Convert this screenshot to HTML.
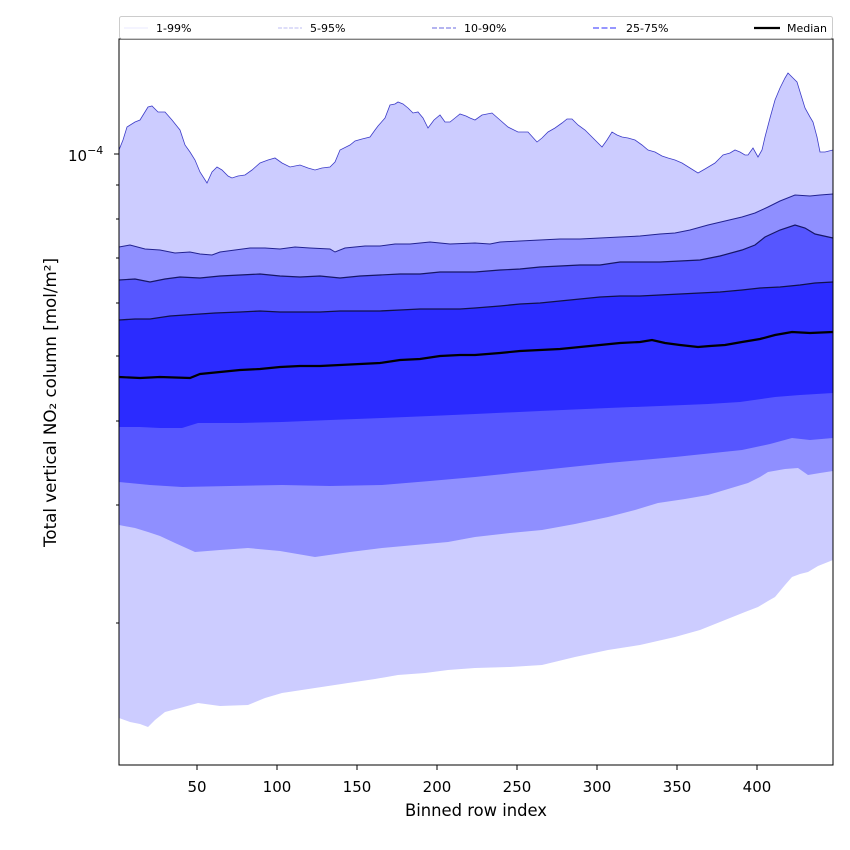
<!DOCTYPE html>
<html>
<head>
<meta charset="utf-8">
<style>
html,body{margin:0;padding:0;background:#fff;}
svg{display:block;}
text{font-family:"DejaVu Sans","Liberation Sans",sans-serif;}
</style>
</head>
<body>
<svg width="850" height="850" viewBox="0 0 850 850" xmlns="http://www.w3.org/2000/svg">
<rect x="0" y="0" width="850" height="850" fill="#fff"/>
<defs>
<clipPath id="ax"><rect x="119" y="39" width="714" height="726"/></clipPath>
</defs>
<g clip-path="url(#ax)">
<path fill="#ccccff" d="M119,150 L123,140 L127,127 L135,122 L140,120 L148,107 L152,106 L158,112 L165,112 L172,120 L180,130 L185,145 L190,152 L195,160 L200,172 L207,183 L212,172 L217,167 L222,170 L228,176 L232,178 L238,176 L245,175 L252,170 L260,163 L268,160 L275,158 L282,163 L290,167 L300,165 L308,168 L315,170 L322,168 L330,167 L335,162 L340,150 L350,145 L355,141 L362,139 L370,137 L375,130 L378,126 L385,118 L390,105 L395,104 L398,102 L403,104 L408,108 L413,113 L418,112 L423,118 L428,128 L434,120 L440,115 L445,122 L450,122 L455,118 L460,114 L466,116 L470,118 L475,120 L482,115 L492,113 L500,120 L508,127 L518,132 L528,132 L537,142 L542,138 L548,132 L555,128 L562,123 L567,119 L572,119 L578,125 L585,130 L592,137 L597,142 L602,147 L607,140 L612,132 L617,135 L622,137 L628,138 L635,140 L642,145 L648,150 L655,152 L662,156 L668,158 L675,160 L682,163 L690,168 L698,173 L705,169 L715,163 L720,158 L723,155 L730,153 L735,150 L740,152 L745,155 L748,155 L753,148 L758,157 L762,150 L765,137 L770,118 L775,100 L780,88 L785,78 L788,73 L793,78 L797,82 L801,95 L805,108 L810,117 L813,122 L817,137 L820,152 L825,152 L833,150
L833,560 L828,562 L818,566 L808,572 L800,574 L792,577 L785,585 L775,597 L768,601 L758,607 L745,612 L725,620 L700,630 L675,637 L640,645 L608,650 L575,657 L542,665 L510,667 L475,668 L448,670 L425,673 L398,675 L375,679 L348,683 L315,688 L282,693 L265,698 L248,705 L220,706 L198,703 L180,708 L165,712 L155,720 L148,727 L140,724 L130,722 L119,718 Z"/>
<path fill="#8f8fff" d="M119,247 L130,245 L145,249 L160,250 L175,253 L190,252 L200,254 L212,255 L220,252 L235,250 L250,248 L265,248 L280,249 L295,247 L310,248 L330,249 L335,252 L345,248 L365,246 L380,246 L395,244 L410,244 L430,242 L450,244 L475,243 L490,244 L500,242 L520,241 L540,240 L560,239 L580,239 L600,238 L620,237 L640,236 L660,234 L675,233 L690,230 L708,225 L725,221 L742,217 L755,213 L768,207 L780,201 L795,195 L810,196 L820,195 L833,194
L833,471 L820,473 L808,475 L798,468 L785,469 L768,472 L760,477 L748,483 L728,489 L708,495 L685,499 L658,503 L635,510 L608,517 L575,524 L542,530 L510,533 L475,537 L448,542 L415,545 L382,548 L350,552 L315,557 L280,551 L248,548 L220,550 L195,552 L175,543 L160,536 L148,532 L135,528 L119,525 Z"/>
<path fill="#5656ff" d="M119,280 L135,279 L150,282 L165,279 L180,277 L200,278 L220,276 L240,275 L260,274 L280,276 L300,277 L320,276 L340,278 L360,276 L380,275 L400,274 L420,274 L440,272 L460,272 L475,272 L500,270 L520,269 L540,267 L560,266 L580,265 L600,265 L620,262 L640,262 L660,262 L680,261 L700,260 L720,256 L742,250 L755,245 L765,237 L780,230 L795,225 L805,228 L815,234 L833,238
L833,438 L810,440 L792,438 L770,444 L742,450 L675,457 L608,463 L542,470 L475,477 L430,481 L382,485 L330,486 L282,485 L230,486 L182,487 L150,485 L119,482 Z"/>
<path fill="#2b2bff" d="M119,320 L135,319 L150,319 L170,316 L185,315 L200,314 L215,313 L240,312 L260,311 L280,312 L300,312 L320,312 L340,311 L360,311 L380,311 L400,310 L420,309 L440,309 L460,309 L475,308 L500,306 L520,304 L540,303 L560,301 L580,299 L600,297 L620,296 L640,296 L660,295 L680,294 L700,293 L720,292 L742,290 L760,288 L780,287 L800,285 L815,283 L833,282
L833,393 L800,395 L775,397 L740,402 L708,404 L660,406 L608,408 L540,411 L475,414 L430,416 L382,418 L330,420 L282,422 L240,423 L198,423 L182,428 L160,428 L140,427 L119,427 Z"/>
<polyline fill="none" stroke="#3c3cc8" stroke-width="0.8" points="119,150 123,140 127,127 135,122 140,120 148,107 152,106 158,112 165,112 172,120 180,130 185,145 190,152 195,160 200,172 207,183 212,172 217,167 222,170 228,176 232,178 238,176 245,175 252,170 260,163 268,160 275,158 282,163 290,167 300,165 308,168 315,170 322,168 330,167 335,162 340,150 350,145 355,141 362,139 370,137 375,130 378,126 385,118 390,105 395,104 398,102 403,104 408,108 413,113 418,112 423,118 428,128 434,120 440,115 445,122 450,122 455,118 460,114 466,116 470,118 475,120 482,115 492,113 500,120 508,127 518,132 528,132 537,142 542,138 548,132 555,128 562,123 567,119 572,119 578,125 585,130 592,137 597,142 602,147 607,140 612,132 617,135 622,137 628,138 635,140 642,145 648,150 655,152 662,156 668,158 675,160 682,163 690,168 698,173 705,169 715,163 720,158 723,155 730,153 735,150 740,152 745,155 748,155 753,148 758,157 762,150 765,137 770,118 775,100 780,88 785,78 788,73 793,78 797,82 801,95 805,108 810,117 813,122 817,137 820,152 825,152 833,150"/>
<polyline fill="none" stroke="#222290" stroke-width="1" points="119,247 130,245 145,249 160,250 175,253 190,252 200,254 212,255 220,252 235,250 250,248 265,248 280,249 295,247 310,248 330,249 335,252 345,248 365,246 380,246 395,244 410,244 430,242 450,244 475,243 490,244 500,242 520,241 540,240 560,239 580,239 600,238 620,237 640,236 660,234 675,233 690,230 708,225 725,221 742,217 755,213 768,207 780,201 795,195 810,196 820,195 833,194"/>
<polyline fill="none" stroke="#161665" stroke-width="1.2" points="119,280 135,279 150,282 165,279 180,277 200,278 220,276 240,275 260,274 280,276 300,277 320,276 340,278 360,276 380,275 400,274 420,274 440,272 460,272 475,272 500,270 520,269 540,267 560,266 580,265 600,265 620,262 640,262 660,262 680,261 700,260 720,256 742,250 755,245 765,237 780,230 795,225 805,228 815,234 833,238"/>
<polyline fill="none" stroke="#10104a" stroke-width="1.3" points="119,320 135,319 150,319 170,316 185,315 200,314 215,313 240,312 260,311 280,312 300,312 320,312 340,311 360,311 380,311 400,310 420,309 440,309 460,309 475,308 500,306 520,304 540,303 560,301 580,299 600,297 620,296 640,296 660,295 680,294 700,293 720,292 742,290 760,288 780,287 800,285 815,283 833,282"/>
<polyline fill="none" stroke="#000" stroke-width="2.2" points="119,377 140,378 160,377 190,378 200,374 220,372 240,370 260,369 280,367 300,366 320,366 340,365 360,364 380,363 400,360 420,359 440,356 460,355 475,355 500,353 520,351 540,350 560,349 580,347 600,345 620,343 640,342 652,340 665,343 680,345 698,347 710,346 725,345 742,342 760,339 775,335 792,332 810,333 833,332"/>
</g>
<rect x="119" y="39" width="714" height="726" fill="none" stroke="#000" stroke-width="1"/>
<g stroke="#000" stroke-width="1">
<line x1="197" y1="765" x2="197" y2="770"/>
<line x1="277" y1="765" x2="277" y2="770"/>
<line x1="357" y1="765" x2="357" y2="770"/>
<line x1="437" y1="765" x2="437" y2="770"/>
<line x1="517" y1="765" x2="517" y2="770"/>
<line x1="597" y1="765" x2="597" y2="770"/>
<line x1="677" y1="765" x2="677" y2="770"/>
<line x1="757" y1="765" x2="757" y2="770"/>
<line x1="114" y1="154" x2="119" y2="154"/>
<line x1="116" y1="185" x2="119" y2="185"/>
<line x1="116" y1="219" x2="119" y2="219"/>
<line x1="116" y1="258" x2="119" y2="258"/>
<line x1="116" y1="303" x2="119" y2="303"/>
<line x1="116" y1="356" x2="119" y2="356"/>
<line x1="116" y1="421" x2="119" y2="421"/>
<line x1="116" y1="505" x2="119" y2="505"/>
<line x1="116" y1="623" x2="119" y2="623"/>
</g>
<g font-size="15" fill="#000" text-anchor="middle">
<text x="197" y="792">50</text>
<text x="277" y="792">100</text>
<text x="357" y="792">150</text>
<text x="437" y="792">200</text>
<text x="517" y="792">250</text>
<text x="597" y="792">300</text>
<text x="677" y="792">350</text>
<text x="757" y="792">400</text>
</g>
<text x="405" y="816" font-size="16.4" fill="#000" textLength="142" lengthAdjust="spacingAndGlyphs">Binned row index</text>
<text x="68" y="161" font-size="15" fill="#000">10<tspan font-size="11" dy="-7">−4</tspan></text>
<text transform="translate(56,547) rotate(-90)" font-size="16.4" fill="#000" textLength="289" lengthAdjust="spacingAndGlyphs">Total vertical NO₂ column [mol/m²]</text>
<rect x="119.5" y="16.5" width="713" height="22" rx="2" ry="2" fill="#fff" fill-opacity="0.85" stroke="#cccccc" stroke-width="1"/>
<g stroke-width="1">
<line x1="124" y1="28" x2="148" y2="28" stroke="#e2e2ff" stroke-width="0.8"/>
<line x1="278" y1="28" x2="302" y2="28" stroke="#a8a8f0" stroke-dasharray="4,1.5" stroke-width="0.8"/>
<line x1="432" y1="28" x2="456" y2="28" stroke="#8888e8" stroke-dasharray="5,2" stroke-width="1.2"/>
<line x1="593" y1="28" x2="617" y2="28" stroke="#7474ff" stroke-dasharray="6,2.5" stroke-width="1.6"/>
<line x1="754" y1="28" x2="780" y2="28" stroke="#000" stroke-width="2.2"/>
</g>
<g font-size="11" fill="#000">
<text x="156" y="32">1-99%</text>
<text x="310" y="32">5-95%</text>
<text x="464" y="32">10-90%</text>
<text x="626" y="32">25-75%</text>
<text x="787" y="32">Median</text>
</g>
</svg>
</body>
</html>
